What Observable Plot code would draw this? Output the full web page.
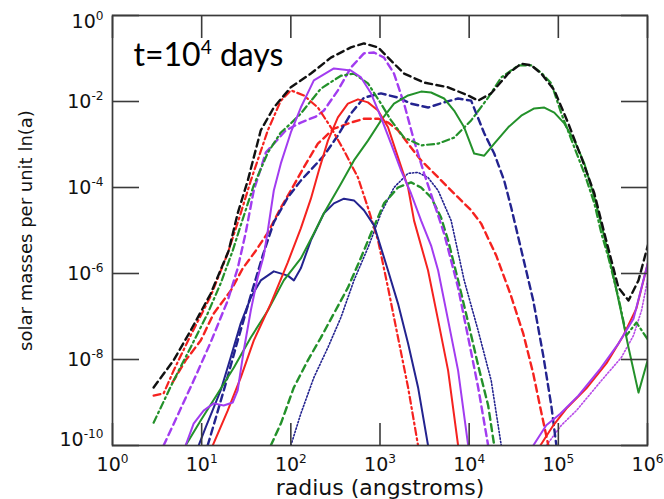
<!DOCTYPE html>
<html><head><meta charset="utf-8">
<script src="https://cdn.jsdelivr.net/npm/d3@7"></script>
<script src="https://cdn.jsdelivr.net/npm/@observablehq/plot@0.6"></script>
<style>body{margin:0;background:#fff}</style>
</head><body><div id="chart"></div>
<script>
// tick exponents
const xTickExp = [0,1,2,3,4,5,6];
const yTickExp = [0,-2,-4,-6,-8,-10];
const title = "t=10^4 days";
const xLabel = "radius (angstroms)";
const yLabel = "solar masses per unit ln(a)";

// all series: log10(radius in angstroms), log10(solar masses per unit ln a)
const blackDashedR = [0.461,0.685,0.876,1.101,1.303,1.404,1.517,1.663,1.809,2.0,2.225,2.449,2.674,2.820,2.978,3.124,3.27,3.494,3.764,3.989,4.101,4.247,4.438,4.584,4.697,4.809,4.955,5.112,5.258,5.404,5.517,5.674,5.787,5.899,6.01];
const blackDashedM = [-8.65,-8.02,-7.33,-6.47,-5.47,-4.60,-3.84,-2.67,-2.14,-1.67,-1.35,-0.98,-0.74,-0.65,-0.74,-1.05,-1.35,-1.56,-1.67,-1.86,-1.98,-1.81,-1.35,-1.12,-1.16,-1.35,-1.74,-2.51,-3.30,-4.14,-5.07,-6.33,-6.63,-6.16,-5.30];

const redDashDotR = [0.461,0.573,0.685,0.876,1.101,1.292,1.438,1.551,1.742,1.888,2.0,2.146,2.303,2.449,2.596,2.753,2.865,2.978,3.090,3.202,3.315,3.427];
const redDashDotM = [-8.84,-8.79,-8.26,-7.44,-6.53,-5.53,-4.60,-3.84,-2.67,-1.98,-1.74,-1.86,-2.14,-2.60,-3.14,-3.77,-4.47,-5.23,-6.33,-7.49,-8.65,-10.0];

const greenDashDotR = [0.461,0.685,0.876,1.067,1.213,1.348,1.438,1.584,1.742,1.888,2.0,2.112,2.337,2.562,2.708,2.865,3.011,3.124,3.270,3.461,3.652,3.831,4.022,4.213,4.360,4.551,4.697,4.809,4.921,5.034,5.180,5.292,5.404,5.483,5.562,5.674,5.764,5.876,6.011];
const greenDashDotM = [-9.47,-8.49,-7.72,-6.93,-6.23,-5.47,-4.88,-3.95,-3.19,-2.72,-2.51,-2.28,-1.70,-1.40,-1.35,-1.58,-2.05,-2.44,-2.84,-3.02,-2.98,-2.84,-2.44,-1.91,-1.44,-1.16,-1.16,-1.33,-1.58,-2.28,-3.07,-3.67,-4.37,-5.07,-5.63,-6.56,-7.44,-7.14,-7.56];

const purpleDashedR = [0.573,0.730,0.910,1.101,1.292,1.404,1.494,1.584,1.719,1.944,2.112,2.281,2.371,2.528,2.674,2.820,2.933,3.045,3.157,3.270,3.382,3.494,3.607,3.719,3.876,3.989,4.101,4.213];
const purpleDashedM = [-10.0,-9.30,-8.49,-7.60,-6.63,-5.88,-5.05,-4.07,-3.19,-2.67,-2.49,-2.35,-2.21,-1.74,-1.21,-0.88,-0.86,-0.98,-1.35,-2.05,-2.91,-3.67,-4.37,-5.07,-6.33,-7.49,-8.65,-10.0];

const purpleSolidR = [0.820,0.910,1.022,1.135,1.247,1.348,1.404,1.472,1.551,1.629,1.697,1.742,1.809,1.888,2.0,2.112,2.258,2.483,2.674,2.787,2.899,3.011,3.124,3.236,3.348,3.461,3.573,3.652,3.764,3.876,3.989];
const purpleSolidM = [-10.0,-9.49,-9.19,-9.02,-9.07,-9.00,-8.72,-7.79,-6.86,-6.09,-5.58,-5.00,-4.07,-3.44,-2.72,-2.14,-1.51,-1.23,-1.28,-1.44,-1.81,-2.37,-2.98,-3.60,-4.14,-4.77,-5.35,-5.93,-7.09,-8.26,-10.0];
const purpleSolidTailR = [4.719,4.865,5.022,5.225,5.472,5.674,5.843,6.011];
const purpleSolidTailM = [-10.0,-9.53,-9.26,-8.84,-8.21,-7.63,-7.05,-5.70];

const purpleDottedTailR = [4.865,5.034,5.202,5.483,5.708,5.843,5.933,6.011];
const purpleDottedTailM = [-10.0,-9.53,-9.19,-8.49,-7.95,-7.44,-6.86,-6.05];

const redSolidR = [1.124,1.292,1.438,1.584,1.775,1.966,2.112,2.225,2.315,2.416,2.528,2.640,2.753,2.865,2.978,3.090,3.202,3.315,3.382,3.539,3.652,3.764,3.876];
const redSolidM = [-10.0,-9.19,-8.42,-7.56,-6.70,-5.74,-4.95,-4.26,-3.60,-2.91,-2.37,-2.05,-1.95,-2.02,-2.21,-2.60,-3.30,-4.00,-4.77,-5.93,-7.09,-8.26,-10.0];
const redSolidTailR = [4.798,4.944,5.090,5.315,5.539,5.730,5.876,6.011];
const redSolidTailM = [-10.0,-9.53,-9.14,-8.67,-8.09,-7.44,-6.81,-5.70];

const redDashedR = [0.674,0.820,0.989,1.135,1.326,1.461,1.607,1.742,1.888,2.0,2.146,2.303,2.483,2.674,2.820,2.978,3.090,3.202,3.315,3.461,3.607,3.764,3.910,4.022,4.135,4.303,4.461,4.607,4.719,4.798,4.888];
const redDashedM = [-8.53,-8.02,-7.56,-6.93,-6.40,-5.88,-5.47,-5.05,-4.47,-4.07,-3.53,-2.98,-2.63,-2.49,-2.40,-2.40,-2.49,-2.67,-2.98,-3.37,-3.67,-4.00,-4.30,-4.53,-4.84,-5.58,-6.47,-7.40,-8.33,-9.12,-10.0];

const navySolidR = [0.966,1.045,1.135,1.213,1.326,1.438,1.551,1.663,1.809,1.966,2.034,2.112,2.225,2.371,2.483,2.596,2.708,2.820,2.933,3.090,3.202,3.315,3.427,3.539];
const navySolidM = [-10.0,-9.58,-9.12,-8.72,-7.95,-7.16,-6.56,-6.16,-5.95,-6.05,-6.16,-5.88,-5.23,-4.60,-4.37,-4.26,-4.30,-4.53,-4.88,-5.93,-6.70,-7.63,-8.65,-10.0];

const navyDashedR = [1.067,1.157,1.270,1.404,1.551,1.685,1.809,1.966,2.112,2.371,2.528,2.674,2.820,3.011,3.202,3.348,3.539,3.719,3.876,4.022,4.169,4.281,4.393,4.472,4.551,4.719,4.831,4.921,4.978];
const navyDashedM = [-10.0,-9.37,-8.56,-7.56,-6.51,-5.58,-4.81,-4.23,-3.84,-3.26,-2.79,-2.28,-1.91,-1.81,-1.91,-2.05,-2.14,-2.02,-1.93,-1.98,-2.74,-3.21,-3.84,-4.47,-5.16,-6.63,-7.91,-9.07,-10.0];

const navyDottedR = [2.0,2.112,2.258,2.416,2.562,2.708,2.865,3.011,3.157,3.315,3.427,3.539,3.652,3.798,3.944,4.101,4.247,4.360];
const navyDottedM = [-10.0,-9.26,-8.42,-7.72,-7.02,-6.16,-5.40,-4.60,-4.00,-3.67,-3.65,-3.77,-4.07,-4.77,-6.16,-7.33,-8.49,-10.0];

const greenSolidR = [0.820,0.989,1.180,1.360,1.551,1.742,1.921,2.112,2.258,2.371,2.562,2.708,2.865,3.011,3.157,3.315,3.461,3.573,3.719,3.831,3.944,4.056,4.169,4.281,4.438,4.584,4.730,4.843,4.955,5.067,5.180,5.292,5.404,5.517,5.596,5.708,5.787,5.899,6.011];
const greenSolidM = [-10.0,-9.42,-8.79,-8.19,-7.49,-6.86,-6.16,-5.65,-5.07,-4.60,-3.91,-3.37,-2.91,-2.44,-2.05,-1.86,-1.77,-1.79,-1.93,-2.21,-2.60,-3.21,-3.26,-2.98,-2.60,-2.33,-2.16,-2.14,-2.26,-2.51,-2.91,-3.44,-4.23,-5.16,-5.86,-6.93,-7.72,-8.77,-7.95];

const greenDashedR = [1.775,1.888,2.034,2.191,2.337,2.483,2.640,2.787,2.899,3.045,3.202,3.348,3.461,3.573,3.685,3.764,3.876,3.989,4.101,4.213,4.281];
const greenDashedM = [-10.0,-9.49,-8.65,-8.02,-7.49,-6.93,-6.33,-5.63,-5.07,-4.37,-4.00,-3.88,-4.00,-4.23,-4.70,-5.23,-6.16,-7.14,-8.14,-9.07,-10.0];

const BLACK = "#111111", RED = "#f5221f", NAVY = "#23238f", GREEN = "#23912a", PURPLE = "#a23cf0", VIOLET = "#b84ce8";
const DASH = "7,4.5", DASHDOT = "7,3.5,1.8,3.5", DOT = "1.4,2";

const series = [
  {r: navyDottedR, m: navyDottedM, stroke: NAVY, dash: DOT, w: 1.6},
  {r: purpleDottedTailR, m: purpleDottedTailM, stroke: VIOLET, dash: DOT, w: 1.6},
  {r: greenDashedR, m: greenDashedM, stroke: GREEN, dash: DASH, w: 2.4},
  {r: redDashedR, m: redDashedM, stroke: RED, dash: DASH, w: 2.4},
  {r: navyDashedR, m: navyDashedM, stroke: NAVY, dash: DASH, w: 2.4},
  {r: purpleDashedR, m: purpleDashedM, stroke: PURPLE, dash: DASH, w: 2.4},
  {r: greenDashDotR, m: greenDashDotM, stroke: GREEN, dash: DASHDOT, w: 2.2},
  {r: redDashDotR, m: redDashDotM, stroke: RED, dash: DASHDOT, w: 2.2},
  {r: navySolidR, m: navySolidM, stroke: NAVY, dash: null, w: 2},
  {r: greenSolidR, m: greenSolidM, stroke: GREEN, dash: null, w: 2},
  {r: redSolidR, m: redSolidM, stroke: RED, dash: null, w: 2},
  {r: redSolidTailR, m: redSolidTailM, stroke: RED, dash: null, w: 2},
  {r: purpleSolidR, m: purpleSolidM, stroke: PURPLE, dash: null, w: 2},
  {r: purpleSolidTailR, m: purpleSolidTailM, stroke: PURPLE, dash: null, w: 2},
  {r: blackDashedR, m: blackDashedM, stroke: BLACK, dash: DASH, w: 2.4}
];

const lineMarks = series.map(s => Plot.line(
  s.r.map((r, i) => ({radius: 10 ** r, mass: 10 ** s.m[i]})),
  {x: "radius", y: "mass", stroke: s.stroke, strokeWidth: s.w, strokeDasharray: s.dash, clip: true}
));

const xTicks = xTickExp.map(e => 10 ** e);
const yTicks = yTickExp.map(e => 10 ** e);
const fmt = d => "10^" + Math.round(Math.log10(d));
const FS = 19;
const AXFONT = "'DejaVu Sans', 'Liberation Sans', sans-serif";

const chart = Plot.plot({
  width: 664, height: 499,
  marginLeft: 112, marginRight: 17, marginTop: 15, marginBottom: 54,
  x: {type: "log", domain: [1, 1e6], axis: null},
  y: {type: "log", domain: [1e-10, 1], axis: null},
  style: {fontFamily: AXFONT, background: "white", color: "#111"},
  marks: [
    ...lineMarks,
    Plot.frame({stroke: "#3a3a3a", strokeWidth: 1.7}),
    Plot.axisX({anchor: "bottom", ticks: xTicks, tickSize: -22, fill: "none", label: null, stroke: "#3a3a3a", strokeWidth: 1.6}),
    Plot.axisX({anchor: "top", ticks: xTicks, tickSize: -22, fill: "none", label: null, stroke: "#3a3a3a", strokeWidth: 1.6}),
    Plot.axisY({anchor: "left", ticks: yTicks, tickSize: -27, fill: "none", label: null, stroke: "#3a3a3a", strokeWidth: 1.6}),
    Plot.axisY({anchor: "right", ticks: yTicks, tickSize: -27, fill: "none", label: null, stroke: "#3a3a3a", strokeWidth: 1.6}),
    Plot.axisX({anchor: "bottom", ticks: xTicks, tickSize: 0, tickPadding: 12, tickFormat: fmt, label: null, fontSize: FS, fill: "#111"}),
    Plot.axisY({anchor: "left", ticks: yTicks, tickSize: 0, tickPadding: 9, tickFormat: fmt, label: null, fontSize: FS, fill: "#111"}),
    Plot.text([xLabel], {frameAnchor: "bottom", dy: 49, lineAnchor: "bottom", textAnchor: "middle", text: d => d, fontSize: 22, fill: "#111"}),
    Plot.text([yLabel], {frameAnchor: "left", dx: -86, rotate: -90, textAnchor: "middle", text: d => d, fontSize: 18, fill: "#111"}),
    Plot.text([title], {frameAnchor: "top-left", dx: 21, dy: 50, lineAnchor: "bottom", textAnchor: "start", text: d => d, fontSize: 32, fontFamily: "Lato, 'Open Sans', sans-serif", fill: "#000"})
  ]
});
document.getElementById("chart").appendChild(chart);

// turn "10^n" into superscripted tspans
const NS = "http://www.w3.org/2000/svg";
chart.querySelectorAll("text").forEach(t => {
  const s = t.textContent;
  let m = s.match(/^10\^(-?\d+)$/);
  const g = t.closest("g[aria-label]");
  const isY = g && /y-axis/.test(g.getAttribute("aria-label"));
  if (m) {
    const e = m[1];
    let shift = 0;
    if (isY && e === "0") shift = 6;
    if (isY && e === "-10") shift = -6;
    t.textContent = "";
    const a = document.createElementNS(NS, "tspan");
    a.textContent = "10";
    if (shift) a.setAttribute("dy", shift);
    const b = document.createElementNS(NS, "tspan");
    b.textContent = e;
    b.setAttribute("dy", -0.42 * FS);
    b.setAttribute("font-size", 0.64 * FS);
    t.appendChild(a); t.appendChild(b);
    return;
  }
  m = s.match(/^t=10\^4 days$/);
  if (m) {
    t.textContent = "";
    t.setAttribute("style", "white-space:pre");
    const a = document.createElementNS(NS, "tspan"); a.textContent = "t=10";
    const b = document.createElementNS(NS, "tspan"); b.textContent = "4"; b.setAttribute("dy", -12); b.setAttribute("font-size", 19);
    const c = document.createElementNS(NS, "tspan"); c.textContent = "\u00a0days"; c.setAttribute("dy", 12);
    t.appendChild(a); t.appendChild(b); t.appendChild(c);
  }
});
</script>
</body></html>
